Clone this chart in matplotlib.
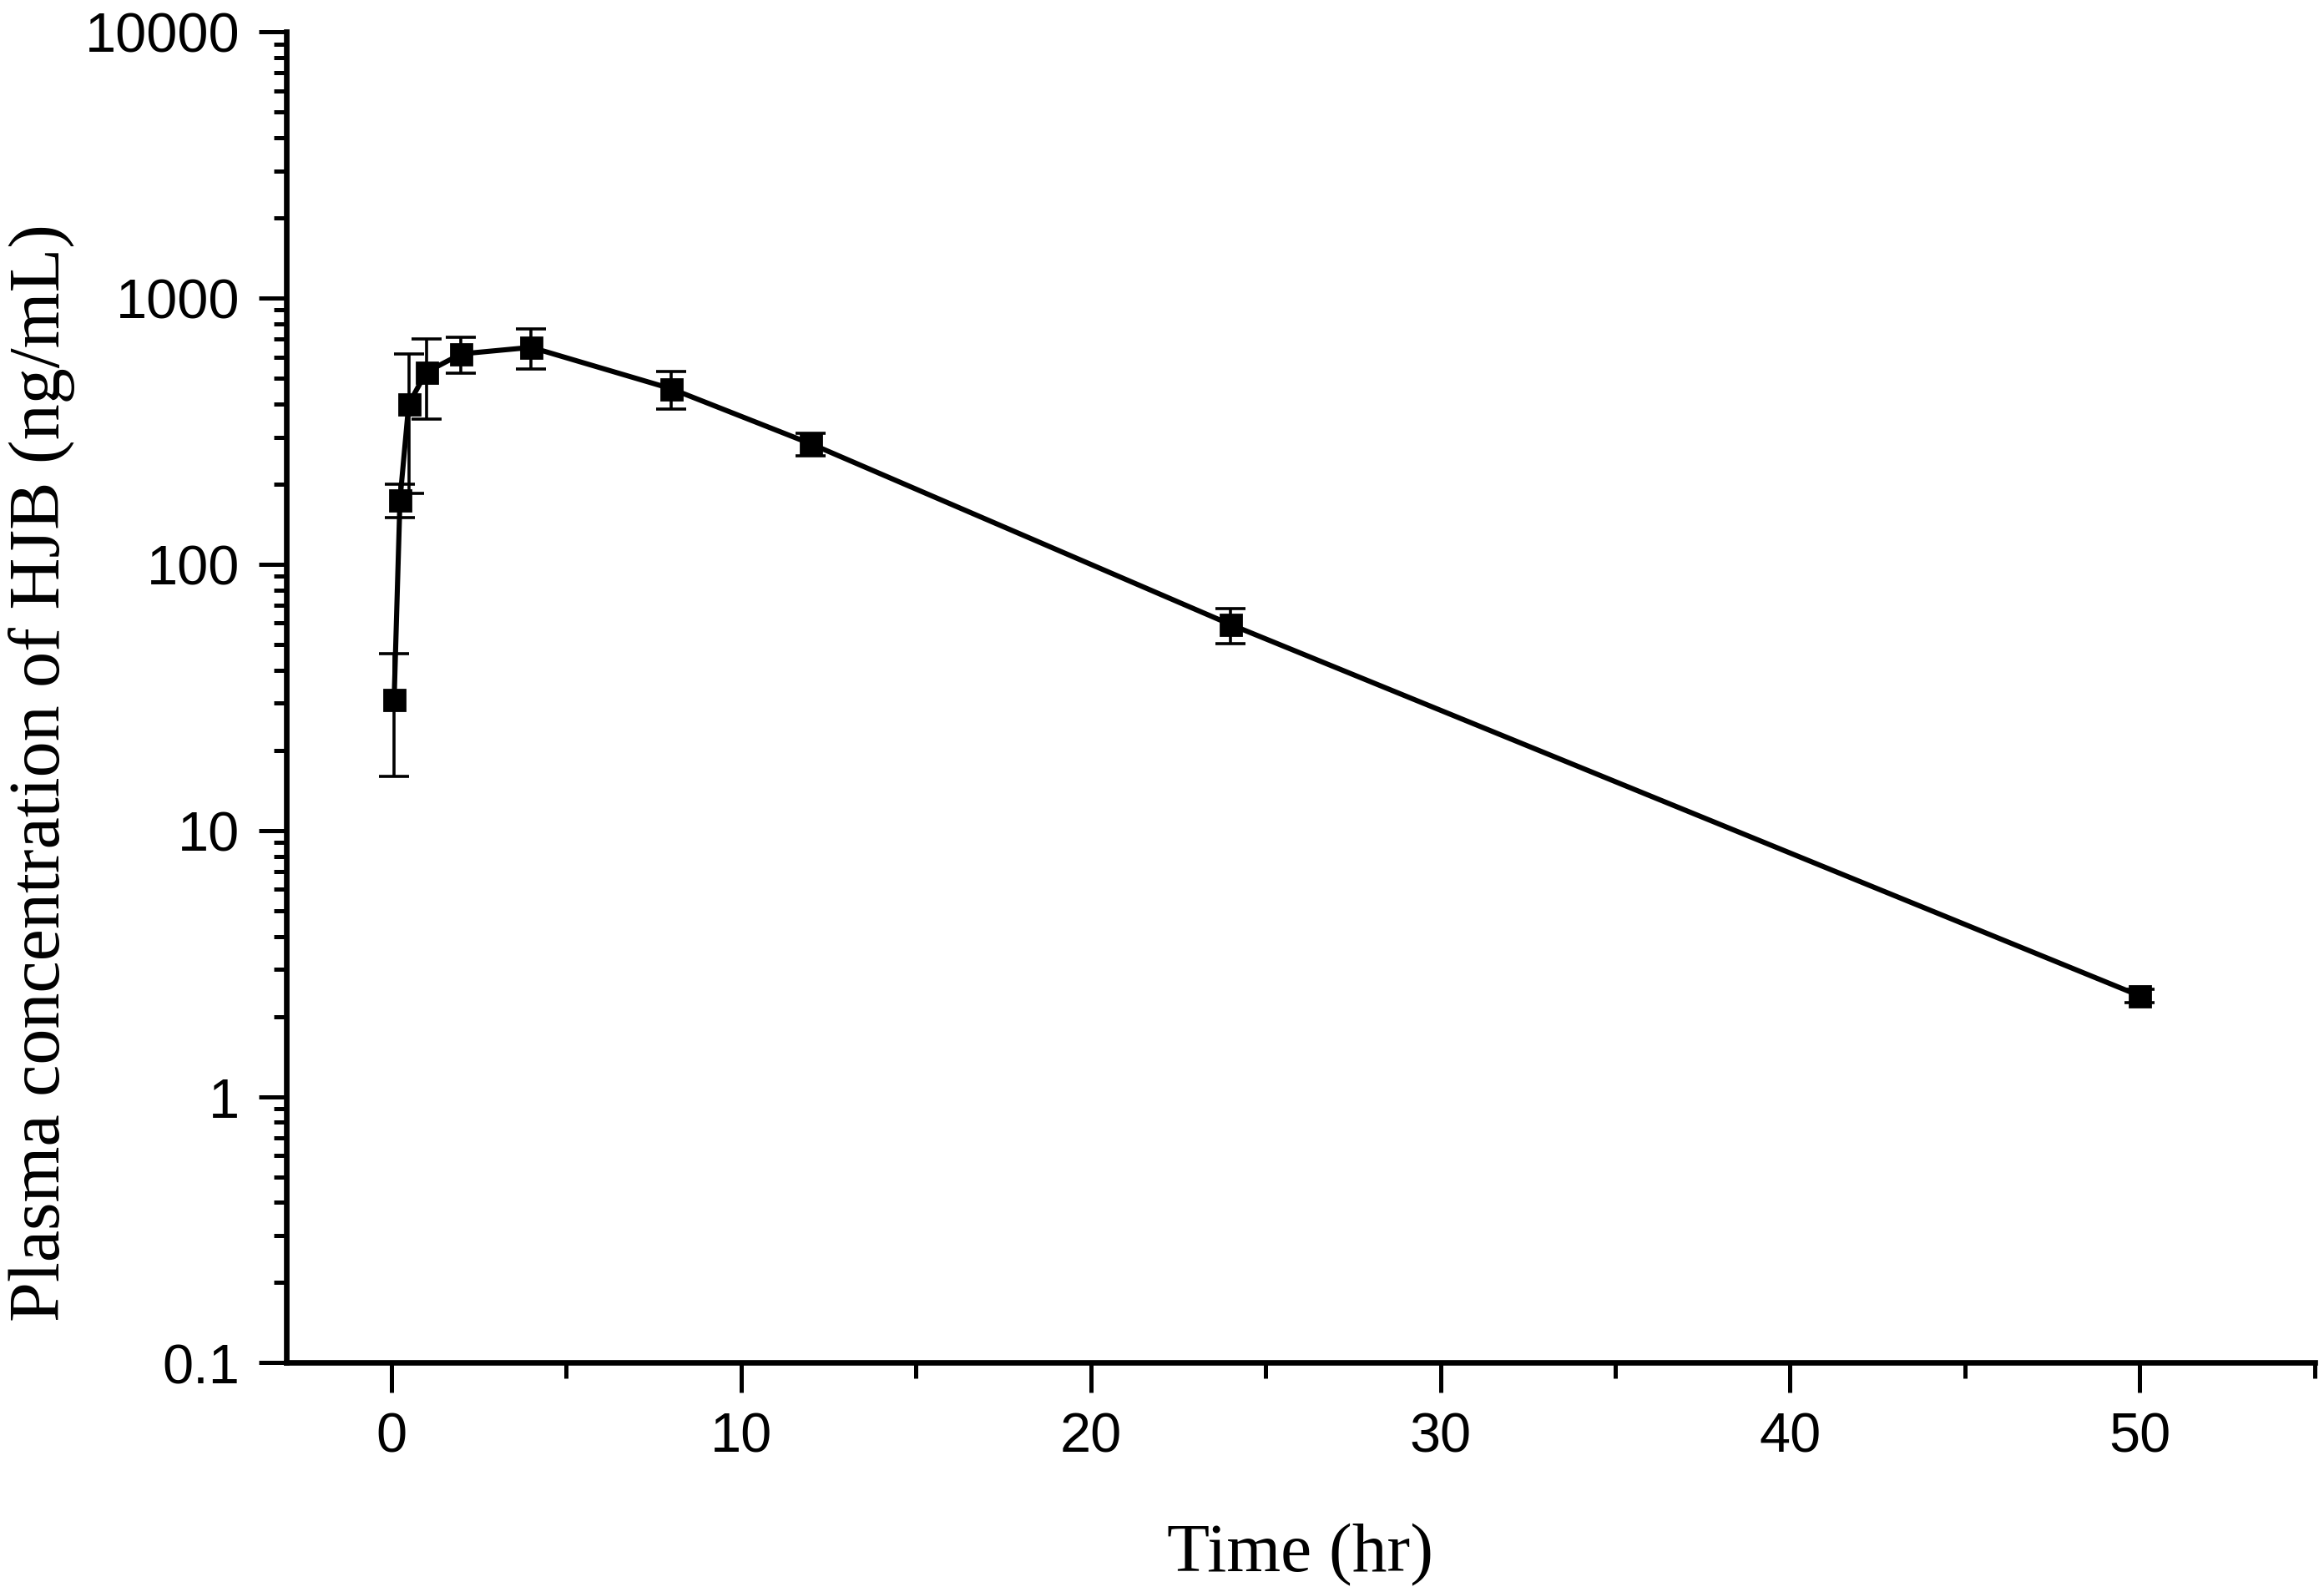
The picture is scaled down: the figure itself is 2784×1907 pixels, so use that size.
import matplotlib
matplotlib.use("Agg")
import matplotlib.pyplot as plt
from matplotlib.ticker import FixedLocator, FuncFormatter, LogLocator, MultipleLocator, NullFormatter

# Data
time_hr = [0.083, 0.25, 0.5, 1, 2, 4, 8, 12, 24, 50]
conc = [31, 174, 399, 526, 616, 652, 456, 283, 59.3, 2.39]
sd = [15, 25, 215, 175, 95, 110, 73, 28, 9, 0.14]

y_ticks = [0.1, 1, 10, 100, 1000, 10000]
x_ticks = [0, 10, 20, 30, 40, 50]

fig = plt.figure(figsize=(13.92, 9.54), dpi=200)
ax = fig.add_axes([0.1232, 0.1439, 0.9960 - 0.1232, 0.9796 - 0.1439])

ax.errorbar(time_hr, conc, yerr=sd, fmt='none', ecolor='black',
            elinewidth=1.3, capsize=6.5, capthick=1.3, zorder=2)
ax.plot(time_hr, conc, color='black', linewidth=2.2, marker='s',
        markersize=9, markerfacecolor='black', markeredgecolor='black', zorder=3)

ax.set_yscale('log')
ax.set_ylim(0.1, 10000)
ax.set_xlim(-3, 55)

ax.yaxis.set_major_locator(FixedLocator(y_ticks))
ax.yaxis.set_major_formatter(FuncFormatter(lambda v, p: '%g' % v))
ax.yaxis.set_minor_locator(LogLocator(base=10, subs=[2, 3, 4, 5, 6, 7, 8, 9], numticks=20))
ax.yaxis.set_minor_formatter(NullFormatter())
ax.xaxis.set_major_locator(FixedLocator(x_ticks))
ax.xaxis.set_minor_locator(MultipleLocator(5))

for s in ['top', 'right']:
    ax.spines[s].set_visible(False)
for s in ['left', 'bottom']:
    ax.spines[s].set_linewidth(2.4)

ax.tick_params(axis='y', which='major', direction='out', length=12, width=1.8, pad=8)
ax.tick_params(axis='y', which='minor', direction='out', length=5.4, width=1.8)
ax.tick_params(axis='x', which='major', direction='out', length=13, width=1.8, pad=8)
ax.tick_params(axis='x', which='minor', direction='out', length=7, width=1.8)

for lab in ax.get_xticklabels() + ax.get_yticklabels():
    lab.set_fontfamily('Liberation Sans')
    lab.set_fontsize(24)

ax.set_xlabel('Time (hr)', fontfamily='Liberation Serif', fontsize=30)
ax.set_ylabel('Plasma concentration of HJB (ng/mL)', fontfamily='Liberation Serif', fontsize=31)
ax.xaxis.set_label_coords(0.5, -0.120)
ax.yaxis.set_label_coords(-0.104, 0.444)

fig.savefig('out.png', dpi=200, facecolor='white')
